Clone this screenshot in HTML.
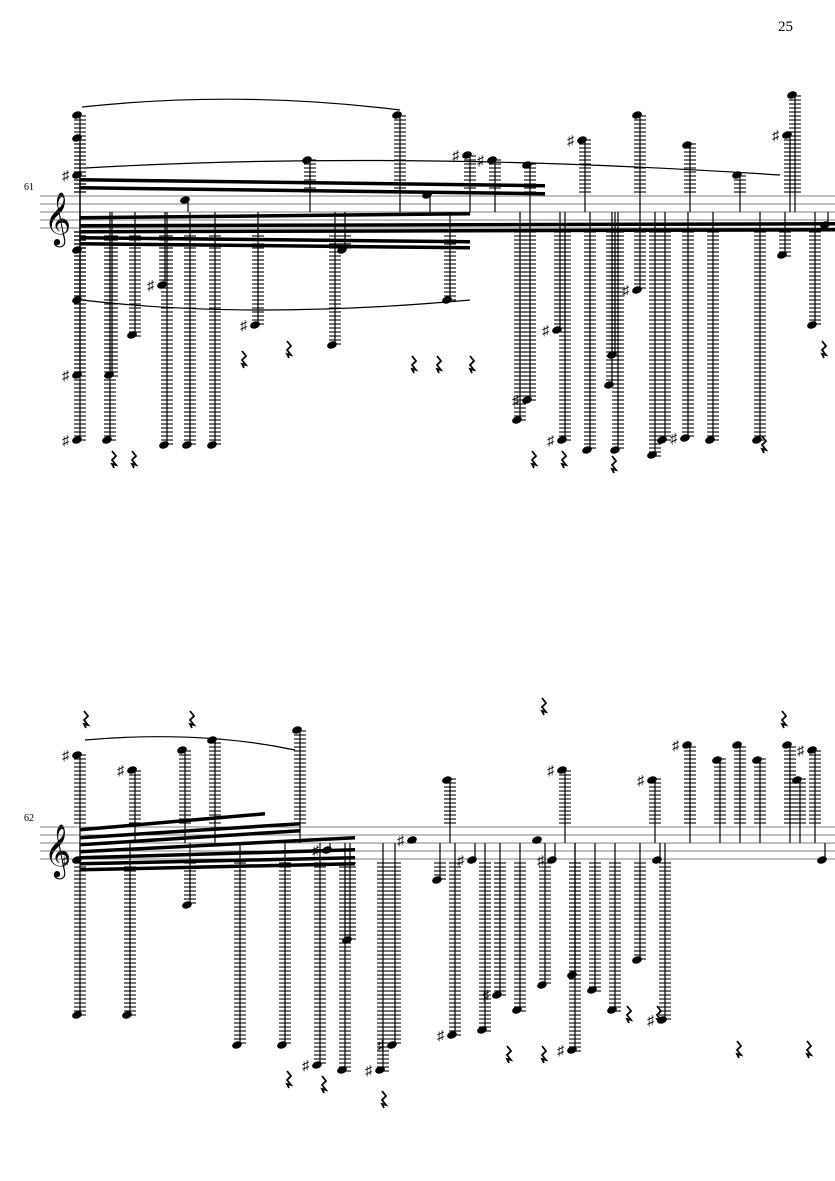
<!DOCTYPE html>
<html><head><meta charset="utf-8">
<style>
html,body{margin:0;padding:0;background:#fff;}
svg{display:block;}
text{font-family:"Liberation Serif",serif;}
</style></head>
<body>
<svg id="s" width="835" height="1181" viewBox="0 0 835 1181" xmlns="http://www.w3.org/2000/svg">
<rect width="835" height="1181" fill="#fff"/>
<text x="778" y="31" font-size="15">25</text>
<text x="24" y="190" font-size="10">61</text>
<text x="24" y="821" font-size="10">62</text>
<text x="44" y="234" font-size="46">𝄞</text>
<text x="44" y="866" font-size="46">𝄞</text>
<g id="g" stroke="#000" fill="#000"></g>
</svg>
<script>
var g=document.getElementById('g'),out='';
function staff(y0){for(var i=0;i<5;i++){var y=y0+i*8;out+='<line x1="40" y1="'+y+'" x2="835" y2="'+y+'" stroke-width="0.8" stroke="#555"/>';}}
staff(196);staff(827);
function note(x,y,top,bot,sh){
 var mid=(top+bot)/2;
 out+='<line x1="'+x+'" y1="'+y+'" x2="'+x+'" y2="'+mid+'" stroke-width="1.2"/>';
 if(y<top){for(var ly=top-4;ly>=y-1;ly-=4)out+='<line x1="'+(x-6)+'" y1="'+ly+'" x2="'+(x+6)+'" y2="'+ly+'" stroke-width="1.1"/>';}
 if(y>bot){for(var ly=bot+4;ly<=y+1;ly+=4)out+='<line x1="'+(x-6)+'" y1="'+ly+'" x2="'+(x+6)+'" y2="'+ly+'" stroke-width="1.1"/>';}
 out+='<ellipse cx="'+(x-3)+'" cy="'+y+'" rx="5" ry="3.5" transform="rotate(-20 '+(x-3)+' '+y+')" stroke="none"/>';
 if(sh)out+='<text x="'+(x-18)+'" y="'+(y+5)+'" font-size="14" stroke="none" font-family="DejaVu Sans">♯</text>';
}
var s1=[[80,115],[80,138],[80,175,1],[80,250],[80,300],[80,375,1],[80,440,1],[110,440],[112,375],[135,335],[165,285,1],[167,445],[190,445],[215,445],[188,200],[258,325,1],[310,160],[335,345],[345,250],[400,115],[430,195],[450,300],[470,155,1],[495,160,1],[520,420],[530,165],[530,400,1],[560,330,1],[565,440,1],[585,140,1],[590,450],[612,385],[615,355],[618,450],[640,115],[640,290,1],[655,455],[665,440],[690,145],[688,438,1],[713,440],[740,175],[760,440],[785,255],[790,135,1],[795,95],[815,325],[828,225]];
s1.forEach(function(n){note(n[0],n[1],196,228,n[2]);});
var s2=[[80,755,1],[80,860,1],[80,1015],[130,1015],[135,770,1],[185,750],[190,905],[215,740],[240,1045],[285,1045],[300,730],[320,1065,1],[330,850,1],[345,1070],[350,940],[383,1070,1],[395,1045,1],[415,840,1],[440,880],[450,780],[455,1035,1],[475,860,1],[485,1030],[500,995,1],[520,1010],[540,840],[545,985],[555,860,1],[565,770,1],[575,975],[575,1050,1],[595,990],[615,1010],[640,960],[655,780,1],[660,860],[665,1020,1],[690,745,1],[720,760],[740,745],[760,760],[790,745],[800,780],[815,750,1],[825,860]];
s2.forEach(function(n){note(n[0],n[1],827,859,n[2]);});
function beam(x1,y1,x2,y2){out+='<polygon points="'+x1+','+y1+' '+x2+','+y2+' '+x2+','+(y2+3.5)+' '+x1+','+(y1+3.5)+'" stroke="none"/>';}
beam(80,178,545,184);beam(80,186,545,192);beam(80,224,835,222);beam(80,230,835,228);beam(80,216,470,212);beam(80,236,470,240);beam(80,242,470,246);
beam(80,836,300,822);beam(80,843,300,829);beam(80,850,355,836);beam(80,856,355,848);beam(80,862,355,856);beam(80,868,355,862);beam(80,828,265,812);
out+='<path d="M82,107 Q240,90 400,110" fill="none" stroke-width="1.2"/>';
out+='<path d="M82,300 Q250,320 470,300" fill="none" stroke-width="1.2"/>';
out+='<path d="M85,168 Q400,150 780,175" fill="none" stroke-width="1.2"/>';
out+='<path d="M85,740 Q200,730 295,750" fill="none" stroke-width="1.2"/>';
g.innerHTML=out;
var rs=[[240,365],[285,355],[410,370],[435,370],[468,370],[530,465],[560,465],[610,470],[760,450],[820,355],[110,465],[130,465],[540,712],[780,725],[188,725],[82,725],[285,1085],[320,1090],[380,1105],[505,1060],[540,1060],[735,1055],[805,1055],[625,1020],[655,1020]];
var t='';rs.forEach(function(r){t+='<path d="M'+(r[0]+2)+','+(r[1]-14)+' l4,5 l-4,4 l4,5 l-4,-1 l2,4" fill="none" stroke="#000" stroke-width="1.8"/>';});
document.getElementById('s').insertAdjacentHTML('beforeend',t);
</script>
</body></html>
